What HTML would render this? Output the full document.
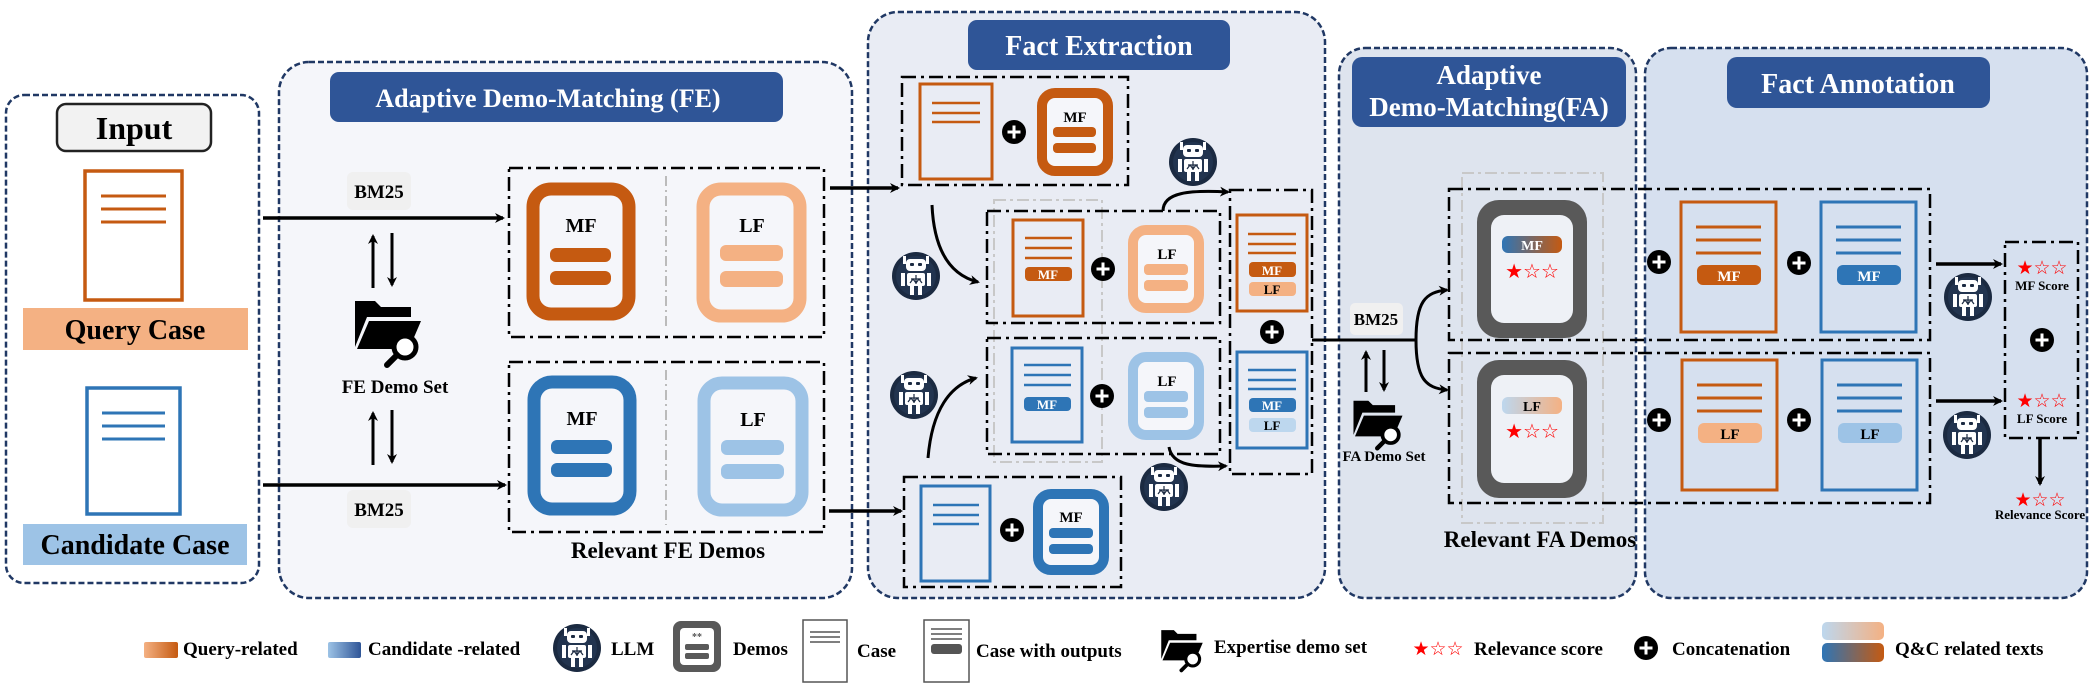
<!DOCTYPE html>
<html><head><meta charset="utf-8"><style>
html,body{margin:0;padding:0;background:#fff;}
svg{display:block;}
text{font-family:"Liberation Serif","DejaVu Serif",serif;font-weight:bold;}
</style></head><body>
<svg width="2093" height="689" viewBox="0 0 2093 689" xmlns="http://www.w3.org/2000/svg">
<defs>
<marker id="ah" markerWidth="10" markerHeight="10" refX="8" refY="5" orient="auto" markerUnits="userSpaceOnUse"><path d="M0,0 L10,5 L0,10 L3,5 Z" fill="#000"/></marker>
<linearGradient id="gq" x1="0" x2="1"><stop offset="0" stop-color="#F4B183"/><stop offset="1" stop-color="#C55A11"/></linearGradient>
<linearGradient id="gc" x1="0" x2="1"><stop offset="0" stop-color="#9DC3E6"/><stop offset="1" stop-color="#2F5597"/></linearGradient>
<linearGradient id="gmf" x1="0" x2="1"><stop offset="0" stop-color="#2E75B6"/><stop offset="1" stop-color="#C55A11"/></linearGradient>
<linearGradient id="glf" x1="0" x2="1"><stop offset="0" stop-color="#BDD7EE"/><stop offset="1" stop-color="#F4B183"/></linearGradient>
<symbol id="robot" viewBox="-25 -25 50 50" overflow="visible">
<circle r="24" fill="#1B2A41"/><circle r="20" fill="#22344f"/>
<rect x="-10" y="-17" width="20" height="12" rx="4" fill="#fff"/>
<rect x="-6" y="-13" width="4" height="3" rx="1" fill="#1B2A41"/><rect x="2" y="-13" width="4" height="3" rx="1" fill="#1B2A41"/>
<rect x="-13" y="-20" width="3" height="8" fill="#fff"/><rect x="10" y="-20" width="3" height="8" fill="#fff"/>
<rect x="-9" y="-3" width="18" height="13" rx="2" fill="#fff"/>
<path d="M-5 3 L5 3 M0 -1 L0 8 M-6 7 L-3 3 L0 7 M0 7 L3 3 L6 7" stroke="#1B2A41" stroke-width="1.2" fill="none"/>
<rect x="-15" y="-3" width="4" height="13" fill="#fff"/><rect x="11" y="-3" width="4" height="13" fill="#fff"/>
<rect x="-6" y="10" width="4" height="9" fill="#fff"/><rect x="2" y="10" width="4" height="9" fill="#fff"/>
</symbol>
<symbol id="plus" viewBox="-12 -12 24 24" overflow="visible">
<circle r="12" fill="#000"/><path d="M-6.5 0 H6.5 M0 -6.5 V6.5" stroke="#fff" stroke-width="3"/>
</symbol>
<symbol id="folder" viewBox="0 0 70 72" overflow="visible">
<path d="M2 6 H22 L28 12 H58 V22 H14 L2 52 Z" fill="#000"/>
<path d="M16 26 H68 L56 54 H4 Z" fill="#000"/>
<circle cx="52" cy="52" r="11" fill="#fff" stroke="#000" stroke-width="5"/>
<path d="M44 60 L34 70" stroke="#000" stroke-width="6" stroke-linecap="round"/>
</symbol>
</defs>

<!-- Panels -->
<rect x="6" y="95" width="253" height="488" rx="18" fill="#fff" stroke="#203864" stroke-width="2.5" stroke-dasharray="6 3"/>
<rect x="279" y="62" width="573" height="536" rx="30" fill="#F5F6FA" stroke="#203864" stroke-width="2.5" stroke-dasharray="6 3"/>
<rect x="868" y="12" width="457" height="586" rx="30" fill="#E9ECF4" stroke="#203864" stroke-width="2.5" stroke-dasharray="6 3"/>
<rect x="1339" y="48" width="297" height="550" rx="26" fill="#DEE4EE" stroke="#203864" stroke-width="2.5" stroke-dasharray="6 3"/>
<rect x="1645" y="48" width="442" height="550" rx="26" fill="#D6E0EF" stroke="#203864" stroke-width="2.5" stroke-dasharray="6 3"/>

<!-- Input -->
<rect x="57" y="104" width="154" height="47" rx="9" fill="#F2F2F2" stroke="#222" stroke-width="2.5"/>
<text x="134" y="139" font-size="32" text-anchor="middle">Input</text>
<rect x="85" y="171" width="97" height="129" fill="#fff" stroke="#C55A11" stroke-width="3.5"/>
<path d="M101 196 H166 M101 209 H166 M101 222 H166" stroke="#C55A11" stroke-width="3"/>
<rect x="23" y="308" width="225" height="42" fill="#F4B183"/>
<text x="135" y="339" font-size="28" text-anchor="middle">Query Case</text>
<rect x="87" y="388" width="93" height="126" fill="#fff" stroke="#2E75B6" stroke-width="3.5"/>
<path d="M102 413 H165 M102 426 H165 M102 439 H165" stroke="#2E75B6" stroke-width="3"/>
<rect x="23" y="524" width="224" height="41" fill="#9DC3E6"/>
<text x="135" y="554" font-size="28" text-anchor="middle">Candidate Case</text>

<!-- FE demo matching -->
<rect x="330" y="72" width="453" height="50" rx="9" fill="#2F5597"/>
<text x="548" y="107" font-size="26" fill="#fff" text-anchor="middle">Adaptive Demo-Matching (FE)</text>
<rect x="347" y="172" width="64" height="38" rx="6" fill="#F0F0F0"/>
<text x="379" y="198" font-size="19" text-anchor="middle">BM25</text>
<rect x="347" y="490" width="64" height="38" rx="6" fill="#F0F0F0"/>
<text x="379" y="516" font-size="19" text-anchor="middle">BM25</text>
<line x1="263" y1="218" x2="503" y2="218" stroke="#000" stroke-width="3.5" marker-end="url(#ah)"/>
<line x1="263" y1="485" x2="505" y2="485" stroke="#000" stroke-width="3.5" marker-end="url(#ah)"/>
<line x1="373" y1="288" x2="373" y2="236" stroke="#000" stroke-width="3" marker-end="url(#ah)"/>
<line x1="392" y1="233" x2="392" y2="285" stroke="#000" stroke-width="3" marker-end="url(#ah)"/>
<line x1="373" y1="465" x2="373" y2="413" stroke="#000" stroke-width="3" marker-end="url(#ah)"/>
<line x1="392" y1="410" x2="392" y2="462" stroke="#000" stroke-width="3" marker-end="url(#ah)"/>
<use href="#folder" x="353" y="295" width="70" height="72"/>
<text x="395" y="393" font-size="19" text-anchor="middle">FE Demo Set</text>

<rect x="509" y="168" width="315" height="169" fill="none" stroke="#000" stroke-width="2.5" stroke-dasharray="14 5 3 5"/>
<line x1="666" y1="176" x2="666" y2="330" stroke="#bbb" stroke-width="2" stroke-dasharray="10 4 2 4"/>
<rect x="533" y="189" width="96" height="125" rx="18" fill="#F5F6FA" stroke="#C55A11" stroke-width="13"/>
<text x="581" y="232" font-size="20" text-anchor="middle">MF</text>
<rect x="550" y="248" width="61" height="14" rx="6" fill="#C55A11"/><rect x="550" y="271" width="61" height="14" rx="6" fill="#C55A11"/>
<rect x="703" y="189" width="97" height="127" rx="18" fill="#F5F6FA" stroke="#F4B183" stroke-width="13"/>
<text x="752" y="232" font-size="20" text-anchor="middle">LF</text>
<rect x="720" y="245" width="63" height="16" rx="6" fill="#F4B183"/><rect x="720" y="271" width="63" height="16" rx="6" fill="#F4B183"/>

<rect x="509" y="362" width="315" height="170" fill="none" stroke="#000" stroke-width="2.5" stroke-dasharray="14 5 3 5"/>
<line x1="666" y1="370" x2="666" y2="525" stroke="#bbb" stroke-width="2" stroke-dasharray="10 4 2 4"/>
<rect x="534" y="382" width="96" height="127" rx="18" fill="#F5F6FA" stroke="#2E75B6" stroke-width="13"/>
<text x="582" y="425" font-size="20" text-anchor="middle">MF</text>
<rect x="551" y="440" width="61" height="14" rx="6" fill="#2E75B6"/><rect x="551" y="463" width="61" height="14" rx="6" fill="#2E75B6"/>
<rect x="704" y="383" width="98" height="127" rx="18" fill="#F5F6FA" stroke="#9DC3E6" stroke-width="13"/>
<text x="753" y="426" font-size="20" text-anchor="middle">LF</text>
<rect x="721" y="440" width="63" height="15" rx="6" fill="#9DC3E6"/><rect x="721" y="464" width="63" height="15" rx="6" fill="#9DC3E6"/>
<text x="668" y="558" font-size="23" text-anchor="middle">Relevant FE Demos</text>

<line x1="830" y1="188" x2="898" y2="188" stroke="#000" stroke-width="3.5" marker-end="url(#ah)"/>
<line x1="829" y1="511" x2="901" y2="511" stroke="#000" stroke-width="3.5" marker-end="url(#ah)"/>

<!-- Fact Extraction -->
<rect x="968" y="20" width="262" height="50" rx="9" fill="#2F5597"/>
<text x="1099" y="55" font-size="28" fill="#fff" text-anchor="middle">Fact Extraction</text>
<rect x="902" y="77" width="226" height="108" fill="none" stroke="#000" stroke-width="2.5" stroke-dasharray="14 5 3 5"/>
<rect x="920" y="84" width="72" height="95" fill="none" stroke="#C55A11" stroke-width="3"/>
<path d="M932 103 H980 M932 113 H980 M932 122 H980" stroke="#C55A11" stroke-width="2.5"/>
<use href="#plus" x="1002" y="120" width="24" height="24"/>
<rect x="1042" y="93" width="66" height="78" rx="13" fill="#F5F6FA" stroke="#C55A11" stroke-width="10"/>
<text x="1075" y="122" font-size="15" text-anchor="middle">MF</text>
<rect x="1053" y="127" width="43" height="10" rx="4" fill="#C55A11"/><rect x="1053" y="143" width="43" height="10" rx="4" fill="#C55A11"/>

<use href="#robot" x="891" y="251" width="50" height="50"/>
<use href="#robot" x="889" y="370" width="50" height="50"/>
<use href="#robot" x="1168" y="137" width="50" height="50"/>
<use href="#robot" x="1139" y="462" width="50" height="50"/>
<path d="M932 205 C934 250 950 275 978 282" fill="none" stroke="#000" stroke-width="3" marker-end="url(#ah)"/>
<path d="M928 458 C932 410 950 385 976 378" fill="none" stroke="#000" stroke-width="3" marker-end="url(#ah)"/>
<path d="M1163 211 C1163 192 1190 190 1228 192" fill="none" stroke="#000" stroke-width="3" marker-end="url(#ah)"/>
<path d="M1169 447 C1172 466 1195 467 1226 466" fill="none" stroke="#000" stroke-width="3" marker-end="url(#ah)"/>

<rect x="994" y="200" width="108" height="262" fill="none" stroke="#c8c8c8" stroke-width="2" stroke-dasharray="12 4 3 4"/>
<rect x="987" y="211" width="233" height="112" fill="none" stroke="#000" stroke-width="2.5" stroke-dasharray="14 5 3 5"/>
<rect x="1013" y="220" width="70" height="96" fill="none" stroke="#C55A11" stroke-width="3"/>
<path d="M1025 238 H1072 M1025 248 H1072 M1025 258 H1072" stroke="#C55A11" stroke-width="2.5"/>
<rect x="1025" y="267" width="47" height="14" rx="4" fill="#C55A11"/>
<text x="1048" y="279" font-size="13" fill="#fff" text-anchor="middle">MF</text>
<use href="#plus" x="1091" y="257" width="24" height="24"/>
<rect x="1133" y="230" width="66" height="78" rx="13" fill="#F5F6FA" stroke="#F4B183" stroke-width="10"/>
<text x="1167" y="259" font-size="15" text-anchor="middle">LF</text>
<rect x="1144" y="264" width="44" height="11" rx="4" fill="#F4B183"/><rect x="1144" y="280" width="44" height="11" rx="4" fill="#F4B183"/>

<rect x="987" y="338" width="233" height="116" fill="none" stroke="#000" stroke-width="2.5" stroke-dasharray="14 5 3 5"/>
<rect x="1012" y="348" width="70" height="94" fill="none" stroke="#2E75B6" stroke-width="3"/>
<path d="M1024 365 H1071 M1024 375 H1071 M1024 385 H1071" stroke="#2E75B6" stroke-width="2.5"/>
<rect x="1024" y="397" width="47" height="14" rx="4" fill="#2E75B6"/>
<text x="1047" y="409" font-size="13" fill="#fff" text-anchor="middle">MF</text>
<use href="#plus" x="1090" y="384" width="24" height="24"/>
<rect x="1133" y="357" width="66" height="78" rx="13" fill="#F5F6FA" stroke="#9DC3E6" stroke-width="10"/>
<text x="1167" y="386" font-size="15" text-anchor="middle">LF</text>
<rect x="1144" y="391" width="44" height="11" rx="4" fill="#9DC3E6"/><rect x="1144" y="407" width="44" height="11" rx="4" fill="#9DC3E6"/>

<rect x="1230" y="190" width="82" height="284" fill="none" stroke="#000" stroke-width="2.5" stroke-dasharray="14 5 3 5"/>
<rect x="1237" y="215" width="70" height="96" fill="none" stroke="#C55A11" stroke-width="3"/>
<path d="M1248 234 H1296 M1248 244 H1296 M1248 253 H1296" stroke="#C55A11" stroke-width="2.5"/>
<rect x="1249" y="262" width="47" height="15" rx="4" fill="#C55A11"/>
<text x="1272" y="275" font-size="13" fill="#fff" text-anchor="middle">MF</text>
<rect x="1249" y="282" width="47" height="14" rx="4" fill="#F4B183"/>
<text x="1272" y="294" font-size="13" text-anchor="middle">LF</text>
<use href="#plus" x="1260" y="320" width="24" height="24"/>
<rect x="1237" y="352" width="70" height="96" fill="none" stroke="#2E75B6" stroke-width="3"/>
<path d="M1248 370 H1296 M1248 380 H1296 M1248 389 H1296" stroke="#2E75B6" stroke-width="2.5"/>
<rect x="1249" y="398" width="47" height="14" rx="4" fill="#2E75B6"/>
<text x="1272" y="410" font-size="13" fill="#fff" text-anchor="middle">MF</text>
<rect x="1249" y="418" width="47" height="14" rx="4" fill="#BDD7EE"/>
<text x="1272" y="430" font-size="13" text-anchor="middle">LF</text>

<rect x="904" y="477" width="217" height="110" fill="none" stroke="#000" stroke-width="2.5" stroke-dasharray="14 5 3 5"/>
<rect x="921" y="486" width="69" height="95" fill="none" stroke="#2E75B6" stroke-width="3"/>
<path d="M933 505 H979 M933 515 H979 M933 524 H979" stroke="#2E75B6" stroke-width="2.5"/>
<use href="#plus" x="1000" y="518" width="24" height="24"/>
<rect x="1038" y="494" width="66" height="76" rx="13" fill="#F5F6FA" stroke="#2E75B6" stroke-width="10"/>
<text x="1071" y="522" font-size="15" text-anchor="middle">MF</text>
<rect x="1049" y="528" width="44" height="10" rx="4" fill="#2E75B6"/><rect x="1049" y="544" width="44" height="10" rx="4" fill="#2E75B6"/>

<!-- connector to FA -->
<path d="M1312 340 H1416" stroke="#000" stroke-width="3"/>
<path d="M1416 340 C1416 302 1425 292 1447 290" fill="none" stroke="#000" stroke-width="3" marker-end="url(#ah)"/>
<path d="M1416 340 C1416 378 1425 388 1447 390" fill="none" stroke="#000" stroke-width="3" marker-end="url(#ah)"/>

<!-- FA demo matching -->
<rect x="1352" y="57" width="274" height="70" rx="10" fill="#2F5597"/>
<text x="1489" y="84" font-size="27" fill="#fff" text-anchor="middle">Adaptive</text>
<text x="1489" y="116" font-size="27" fill="#fff" text-anchor="middle">Demo-Matching(FA)</text>
<rect x="1350" y="303" width="53" height="32" rx="5" fill="#F0F0F0"/>
<text x="1376" y="325" font-size="17" text-anchor="middle">BM25</text>
<line x1="1366" y1="392" x2="1366" y2="352" stroke="#000" stroke-width="3" marker-end="url(#ah)"/>
<line x1="1384" y1="350" x2="1384" y2="390" stroke="#000" stroke-width="3" marker-end="url(#ah)"/>
<use href="#folder" x="1352" y="396" width="52" height="54"/>
<text x="1384" y="461" font-size="15" text-anchor="middle">FA Demo Set</text>

<rect x="1462" y="173" width="141" height="350" fill="none" stroke="#c8c8c8" stroke-width="2" stroke-dasharray="12 4 3 4"/>
<rect x="1449" y="189" width="481" height="151" fill="none" stroke="#000" stroke-width="2.5" stroke-dasharray="14 5 3 5"/>
<rect x="1449" y="353" width="481" height="150" fill="none" stroke="#000" stroke-width="2.5" stroke-dasharray="14 5 3 5"/>
<rect x="1477" y="200" width="110" height="138" rx="22" fill="#595959"/>
<rect x="1491" y="215" width="82" height="108" rx="13" fill="#EEF1F6"/>
<rect x="1502" y="236" width="60" height="17" rx="6" fill="url(#gmf)"/>
<text x="1532" y="250" font-size="14" fill="#fff" text-anchor="middle">MF</text>
<text x="1532" y="278" font-size="20" fill="#f00" text-anchor="middle" style="font-family:'DejaVu Sans',sans-serif;font-weight:normal">★☆☆</text>
<rect x="1477" y="360" width="110" height="138" rx="22" fill="#595959"/>
<rect x="1491" y="375" width="82" height="108" rx="13" fill="#EEF1F6"/>
<rect x="1502" y="397" width="60" height="17" rx="6" fill="url(#glf)"/>
<text x="1532" y="411" font-size="14" text-anchor="middle">LF</text>
<text x="1532" y="438" font-size="20" fill="#f00" text-anchor="middle" style="font-family:'DejaVu Sans',sans-serif;font-weight:normal">★☆☆</text>
<text x="1540" y="547" font-size="23" text-anchor="middle">Relevant FA Demos</text>

<!-- Fact Annotation -->
<rect x="1727" y="57" width="263" height="51" rx="10" fill="#2F5597"/>
<text x="1858" y="93" font-size="28" fill="#fff" text-anchor="middle">Fact Annotation</text>
<use href="#plus" x="1647" y="250" width="24" height="24"/>
<rect x="1681" y="202" width="95" height="130" fill="none" stroke="#C55A11" stroke-width="3"/>
<path d="M1696 227 H1761 M1696 240 H1761 M1696 253 H1761" stroke="#C55A11" stroke-width="3"/>
<rect x="1697" y="265" width="64" height="20" rx="6" fill="#C55A11"/>
<text x="1729" y="281" font-size="15" fill="#fff" text-anchor="middle">MF</text>
<use href="#plus" x="1787" y="251" width="24" height="24"/>
<rect x="1821" y="202" width="95" height="130" fill="none" stroke="#2E75B6" stroke-width="3"/>
<path d="M1836 227 H1901 M1836 240 H1901 M1836 253 H1901" stroke="#2E75B6" stroke-width="3"/>
<rect x="1837" y="265" width="64" height="20" rx="6" fill="#2E75B6"/>
<text x="1869" y="281" font-size="15" fill="#fff" text-anchor="middle">MF</text>

<use href="#plus" x="1647" y="408" width="24" height="24"/>
<rect x="1682" y="360" width="95" height="130" fill="none" stroke="#C55A11" stroke-width="3"/>
<path d="M1697 385 H1762 M1697 398 H1762 M1697 411 H1762" stroke="#C55A11" stroke-width="3"/>
<rect x="1698" y="423" width="64" height="20" rx="6" fill="#F4B183"/>
<text x="1730" y="439" font-size="15" text-anchor="middle">LF</text>
<use href="#plus" x="1787" y="408" width="24" height="24"/>
<rect x="1822" y="360" width="95" height="130" fill="none" stroke="#2E75B6" stroke-width="3"/>
<path d="M1837 385 H1902 M1837 398 H1902 M1837 411 H1902" stroke="#2E75B6" stroke-width="3"/>
<rect x="1838" y="423" width="64" height="20" rx="6" fill="#9DC3E6"/>
<text x="1870" y="439" font-size="15" text-anchor="middle">LF</text>

<line x1="1936" y1="264" x2="2001" y2="264" stroke="#000" stroke-width="3.5" marker-end="url(#ah)"/>
<line x1="1936" y1="401" x2="2001" y2="401" stroke="#000" stroke-width="3.5" marker-end="url(#ah)"/>
<use href="#robot" x="1943" y="272" width="50" height="50"/>
<use href="#robot" x="1942" y="410" width="50" height="50"/>
<rect x="2005" y="242" width="73" height="196" fill="none" stroke="#000" stroke-width="2.5" stroke-dasharray="14 5 3 5"/>
<text x="2042" y="274" font-size="19" fill="#f00" text-anchor="middle" style="font-family:'DejaVu Sans',sans-serif;font-weight:normal">★☆☆</text>
<text x="2042" y="290" font-size="13" text-anchor="middle">MF Score</text>
<use href="#plus" x="2030" y="328" width="24" height="24"/>
<text x="2042" y="407" font-size="19" fill="#f00" text-anchor="middle" style="font-family:'DejaVu Sans',sans-serif;font-weight:normal">★☆☆</text>
<text x="2042" y="423" font-size="13" text-anchor="middle">LF Score</text>
<line x1="2040" y1="438" x2="2040" y2="484" stroke="#000" stroke-width="3.5" marker-end="url(#ah)"/>
<text x="2040" y="506" font-size="19" fill="#f00" text-anchor="middle" style="font-family:'DejaVu Sans',sans-serif;font-weight:normal">★☆☆</text>
<text x="2040" y="519" font-size="13" text-anchor="middle">Relevance Score</text>

<!-- Legend -->
<rect x="144" y="642" width="34" height="16" rx="2" fill="url(#gq)"/>
<text x="183" y="655" font-size="19">Query-related</text>
<rect x="328" y="642" width="33" height="16" rx="2" fill="url(#gc)"/>
<text x="368" y="655" font-size="19">Candidate -related</text>
<use href="#robot" x="552" y="623" width="50" height="50"/>
<text x="611" y="655" font-size="19">LLM</text>
<rect x="673" y="621" width="48" height="51" rx="8" fill="#595959"/>
<rect x="680" y="628" width="34" height="37" rx="4" fill="#fff"/>
<text x="697" y="640" font-size="10" text-anchor="middle" fill="#555">**</text>
<rect x="685" y="644" width="24" height="6" rx="2" fill="#595959"/><rect x="685" y="653" width="24" height="6" rx="2" fill="#595959"/>
<text x="733" y="655" font-size="19">Demos</text>
<rect x="803" y="620" width="44" height="62" fill="#fff" stroke="#555" stroke-width="1.5"/>
<path d="M810 632 H840 M810 637 H840 M810 642 H840" stroke="#555" stroke-width="1.5"/>
<text x="857" y="657" font-size="19">Case</text>
<rect x="924" y="620" width="45" height="62" fill="#fff" stroke="#555" stroke-width="1.5"/>
<path d="M931 629 H962 M931 634 H962 M931 639 H962" stroke="#555" stroke-width="1.5"/>
<rect x="931" y="644" width="31" height="10" rx="3" fill="#555"/>
<text x="976" y="657" font-size="19">Case with outputs</text>
<use href="#folder" x="1160" y="626" width="44" height="46"/>
<text x="1214" y="653" font-size="19">Expertise demo set</text>
<text x="1438" y="655" font-size="19" fill="#f00" text-anchor="middle" style="font-family:'DejaVu Sans',sans-serif;font-weight:normal">★☆☆</text>
<text x="1474" y="655" font-size="19">Relevance score</text>
<use href="#plus" x="1634" y="636" width="24" height="24"/>
<text x="1672" y="655" font-size="19">Concatenation</text>
<rect x="1822" y="622" width="62" height="18" rx="5" fill="url(#glf)"/>
<rect x="1822" y="643" width="62" height="19" rx="5" fill="url(#gmf)"/>
<text x="1895" y="655" font-size="19">Q&amp;C related texts</text>
</svg>
</body></html>
